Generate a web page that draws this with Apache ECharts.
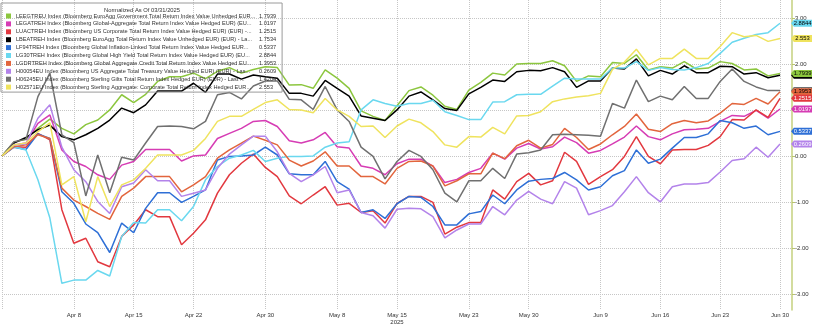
<!DOCTYPE html>
<html>
<head>
<meta charset="utf-8">
<script src="https://cdn.jsdelivr.net/npm/echarts@6/dist/echarts.min.js"></script>
<style>
  html, body { margin: 0; padding: 0; background: #ffffff; }
  #chart { width: 816px; height: 330px; }
</style>
</head>
<body>
<div id="chart"></div>
<script>
// Trading calendar: every weekday from 31 Mar to 30 Jun 2025
const firstDay = '2025-03-31';
const lastDay = '2025-06-30';
function weekdaysBetween(a, b) {
  const out = [];
  const d = new Date(a + 'T00:00:00Z');
  const end = new Date(b + 'T00:00:00Z');
  while (d <= end) {
    const wd = d.getUTCDay();
    if (wd !== 0 && wd !== 6) out.push(d.toISOString().slice(0, 10));
    d.setUTCDate(d.getUTCDate() + 1);
  }
  return out;
}
const dates = weekdaysBetween(firstDay, lastDay);

// Labelled ticks on the date axis
const tickLabels = {
  '2025-04-08': 'Apr 8', '2025-04-15': 'Apr 15', '2025-04-22': 'Apr 22',
  '2025-04-30': 'Apr 30', '2025-05-08': 'May 8', '2025-05-15': 'May 15\n2025',
  '2025-05-23': 'May 23', '2025-05-30': 'May 30', '2025-06-09': 'Jun 9',
  '2025-06-16': 'Jun 16', '2025-06-23': 'Jun 23', '2025-06-30': 'Jun 30'
};
const gridDates = ['2025-03-31'].concat(Object.keys(tickLabels));

// Index codes and their descriptions
const codes = ['LEEGTREU', 'LEGATREH', 'LUACTREH', 'LBEATREH', 'LF94TREH',
               'LG30TREH', 'LGDRTREH', 'H00054EU', 'H06245EU', 'H02571EU'];
const descriptions = [
  'LEEGTREU Index (Bloomberg EuroAgg Government Total Return Index Value Unhedged EUR...',
  'LEGATREH Index (Bloomberg Global-Aggregate Total Return Index Value Hedged EUR) (EU...',
  'LUACTREH Index (Bloomberg US Corporate Total Return Index Value Hedged EUR) (EUR) -...',
  'LBEATREH Index (Bloomberg EuroAgg Total Return Index Value Unhedged EUR) (EUR) - La...',
  'LF94TREH Index (Bloomberg Global Inflation-Linked Total Return Index Value Hedged EUR...',
  'LG30TREH Index (Bloomberg Global High Yield Total Return Index Value Hedged EUR) (EU...',
  'LGDRTREH Index (Bloomberg Global Aggregate Credit Total Return Index Value Hedged EU...',
  'H00054EU Index (Bloomberg US Aggregate Total Treasury Value Hedged EUR) (EUR) - Las...',
  'H06245EU Index (Bloomberg Sterling Gilts Total Return Index Hedged EUR) (EUR) - Last ...',
  'H02571EU Index (Bloomberg Sterling Aggregate: Corporate Total Return Index Hedged EUR...'
];
const colors = ['#8cc63e', '#d63cb4', '#e2383f', '#000000', '#2e6fd6',
                '#6ad8ef', '#e2653d', '#b383ea', '#707070', '#efe35e'];
const tagTextColors = ['#000', '#fff', '#fff', '#fff', '#fff',
                       '#000', '#000', '#fff', '#fff', '#000'];

// Normalized returns (%), one value per weekday
const LEEGTREU = [0, 0.30, 0.36, 0.60, 0.80, 0.60, 0.48, 0.68, 0.78, 1.00, 1.33, 1.16, 1.34, 1.62, 1.72, 1.72, 1.80, 1.68, 1.84, 1.92, 1.80, 1.88,
  1.94, 1.92, 1.54, 1.55, 1.47, 1.87, 1.69, 1.47, 0.98, 0.86, 0.77, 1.09, 1.42, 1.50, 1.32, 1.08, 1.01, 1.43, 1.60, 1.80, 1.76, 2.00,
  2.01, 2.01, 2.07, 1.96, 1.62, 1.74, 1.72, 2.03, 2.01, 2.20, 1.87, 1.94, 1.91, 2.05, 1.89, 1.91, 2.05, 2.01, 1.87, 1.89, 1.74, 1.7939];
const LEGATREH = [0, 0.24, 0.28, 0.71, 0.89, 0.13, -0.12, -0.23, -0.41, -0.51, -0.20, -0.12, 0.14, 0.14, 0.14, -0.11, 0.00, 0.02, 0.38, 0.49, 0.60, 0.75,
  0.77, 0.64, 0.33, 0.28, 0.35, 0.51, 0.20, 0.17, -0.22, -0.27, -0.41, -0.17, -0.07, -0.07, -0.22, -0.58, -0.51, -0.36, -0.27, 0.06, -0.07, 0.17,
  0.27, 0.15, 0.20, 0.41, 0.29, 0.06, 0.12, 0.26, 0.41, 0.65, 0.42, 0.35, 0.48, 0.57, 0.58, 0.60, 0.75, 0.88, 0.86, 0.99, 0.82, 1.0197];
const LUACTREH = [0, 0.20, 0.19, 0.49, 0.35, -1.17, -1.90, -1.79, -2.30, -2.41, -1.75, -1.50, -1.17, -1.32, -1.32, -1.93, -1.68, -1.39, -0.81, -0.41, -0.16, 0.04,
  -0.25, -0.45, -0.87, -1.04, -0.85, -0.67, -1.07, -1.03, -1.23, -1.19, -1.46, -1.03, -0.88, -0.88, -1.01, -1.70, -1.55, -1.45, -1.45, -0.74, -0.94, -0.56,
  -0.38, -0.63, -0.54, 0.08, -0.12, -0.62, -0.45, -0.30, -0.01, 0.42, -0.01, -0.17, 0.13, 0.14, 0.14, 0.23, 0.42, 0.79, 0.78, 1.00, 0.84, 1.2515];
const LBEATREH = [0, 0.28, 0.40, 0.57, 0.67, 0.42, 0.35, 0.46, 0.60, 0.78, 1.04, 0.94, 1.11, 1.41, 1.41, 1.41, 1.58, 1.38, 1.78, 1.78, 1.67, 1.76,
  1.72, 1.69, 1.36, 1.36, 1.30, 1.64, 1.47, 1.30, 0.87, 0.82, 0.77, 1.00, 1.30, 1.39, 1.22, 1.03, 0.99, 1.35, 1.49, 1.65, 1.62, 1.83,
  1.86, 1.85, 1.92, 1.83, 1.49, 1.63, 1.63, 1.91, 1.89, 2.11, 1.74, 1.86, 1.78, 1.96, 1.81, 1.81, 1.95, 1.94, 1.78, 1.81, 1.70, 1.7534];
const LF94TREH = [0, 0.19, 0.14, 0.48, 0.38, -0.78, -1.03, -1.48, -1.67, -2.10, -1.46, -1.67, -1.14, -0.80, -0.80, -1.01, -0.88, -0.74, -0.09, -0.01, 0.00, 0.02,
  0.19, 0.02, -0.39, -0.41, -0.41, -0.12, -0.56, -0.72, -1.23, -1.17, -1.36, -1.04, -0.88, -0.90, -1.10, -1.50, -1.50, -1.26, -1.21, -0.85, -1.04, -0.74,
  -0.55, -0.51, -0.49, -0.36, -0.52, -0.74, -0.67, -0.43, -0.32, 0.13, -0.16, -0.07, 0.17, 0.40, 0.40, 0.48, 0.77, 0.72, 0.60, 0.65, 0.46, 0.5337];
const LG30TREH = [0, 0.20, 0.13, -0.52, -1.35, -2.77, -2.70, -2.70, -2.49, -2.61, -1.75, -1.45, -1.46, -1.17, -1.17, -1.41, -1.10, -0.52, -0.23, -0.05, 0.02, 0.12,
  -0.12, -0.05, -0.01, -0.01, 0.00, 0.19, 0.28, 0.31, 1.00, 1.22, 1.14, 1.08, 1.14, 1.14, 1.21, 0.96, 0.88, 0.79, 0.79, 1.17, 1.18, 1.33,
  1.34, 1.34, 1.52, 1.69, 1.67, 1.67, 1.67, 1.91, 1.91, 2.05, 1.86, 1.92, 1.88, 1.87, 1.92, 2.01, 2.23, 2.47, 2.56, 2.64, 2.68, 2.8844];
const LGDRTREH = [0, 0.20, 0.24, 0.46, 0.38, -0.70, -0.96, -1.10, -1.25, -1.38, -0.88, -0.70, -0.45, -0.45, -0.45, -0.78, -0.63, -0.45, -0.05, 0.13, 0.28, 0.43,
  0.34, 0.24, -0.09, -0.22, -0.11, 0.09, -0.22, -0.22, -0.45, -0.45, -0.61, -0.27, -0.12, -0.11, -0.22, -0.65, -0.54, -0.39, -0.39, 0.06, -0.06, 0.22,
  0.34, 0.17, 0.25, 0.60, 0.40, 0.14, 0.26, 0.46, 0.64, 0.91, 0.58, 0.53, 0.70, 0.77, 0.72, 0.76, 0.93, 1.14, 1.12, 1.25, 1.13, 1.3953];
const H00054EU = [0, 0.24, 0.26, 0.82, 1.11, 0.19, -0.30, -0.56, -0.99, -1.25, -0.67, -0.59, -0.30, -0.54, -0.54, -0.88, -0.81, -0.74, -0.27, 0.04, 0.24, 0.43,
  0.43, 0.09, -0.38, -0.56, -0.41, -0.23, -0.80, -0.74, -1.23, -1.30, -1.57, -1.16, -1.14, -1.15, -1.32, -1.78, -1.61, -1.48, -1.48, -1.10, -1.28, -0.96,
  -0.77, -0.94, -1.04, -0.56, -0.70, -1.28, -1.19, -1.08, -0.78, -0.45, -0.80, -1.00, -0.67, -0.61, -0.61, -0.58, -0.35, -0.10, -0.06, 0.19, -0.03, 0.2609];
const H06245EU = [0, 0.31, 0.36, 1.29, 1.80, 0.46, 0.29, -0.87, 0.02, -0.80, -0.03, -0.09, 0.28, 0.64, 0.65, 0.64, 0.59, 0.75, 1.33, 1.38, 1.24, 1.52,
  1.63, 1.63, 1.23, 1.22, 1.01, 1.51, 1.00, 0.75, 0.19, -0.01, -0.50, -0.12, 0.12, -0.01, -0.30, -0.81, -1.00, -0.54, -0.54, -0.27, -0.49, 0.04,
  0.07, 0.13, 0.46, 0.47, 0.46, 0.45, 0.43, 1.14, 1.04, 1.65, 1.18, 1.30, 1.22, 1.51, 1.25, 1.25, 1.62, 1.89, 1.62, 1.50, 1.42, 1.4204];
const H02571EU = [0, 0.24, 0.28, 0.53, 0.72, -0.63, -0.45, -1.43, -0.45, -1.10, -0.63, -0.52, -0.27, 0.02, 0.02, 0.02, 0.12, 0.38, 0.75, 0.86, 0.86, 1.01,
  1.16, 1.22, 1.01, 1.00, 0.94, 1.25, 1.00, 0.86, 0.64, 0.65, 0.40, 0.65, 0.80, 0.72, 0.53, 0.24, 0.19, 0.42, 0.41, 0.62, 0.48, 0.87,
  0.88, 0.96, 1.18, 1.24, 1.28, 1.31, 1.36, 1.88, 2.04, 2.32, 1.98, 2.12, 2.12, 2.32, 2.12, 2.12, 2.38, 2.68, 2.59, 2.62, 2.49, 2.553];

const valuesByCode = { LEEGTREU, LEGATREH, LUACTREH, LBEATREH, LF94TREH,
                       LG30TREH, LGDRTREH, H00054EU, H06245EU, H02571EU };

// Y-axis tick labels
const yTickValues = [-3, -2, -1, 0, 1, 2, 3];

const FONT = '"Liberation Sans", Arial, sans-serif';
const lastDate = dates[dates.length - 1];
const lastValue = code => valuesByCode[code][valuesByCode[code].length - 1];

const chart = echarts.init(document.getElementById('chart'), null, { renderer: 'canvas' });

const series = codes.map((code, k) => ({
  name: code,
  type: 'line',
  data: valuesByCode[code],
  showSymbol: false,
  symbol: 'none',
  lineStyle: { color: colors[k], width: 1.5 },
  itemStyle: { color: colors[k] },
  z: 2,
  markPoint: {
    silent: true,
    z: 30 - k,
    symbol: 'path://M0,4 L3,0 L22,0 L22,8 L3,8 Z',
    symbolSize: [21, 7],
    symbolKeepAspect: false,
    symbolOffset: [21.5, 0],
    itemStyle: { color: colors[k] },
    label: {
      show: true,
      position: 'inside',
      offset: [1, 0],
      formatter: p => String(p.value),
      color: tagTextColors[k],
      fontSize: 5.8,
      fontFamily: FONT
    },
    data: [{ coord: [lastDate, lastValue(code)], value: lastValue(code) }]
  }
}));

const option = {
  animation: false,
  backgroundColor: '#ffffff',
  grid: { left: 2, right: 24, top: 0, bottom: 20, containLabel: false },
  graphic: [{
    type: 'text',
    x: 142, y: 10,
    style: {
      text: 'Normalized As Of 03/31/2025',
      textAlign: 'center', textVerticalAlign: 'middle',
      fontSize: 5.8, fontFamily: FONT, fill: '#333'
    },
    z: 100
  }],
  legend: {
    data: codes,
    orient: 'vertical',
    left: 1, top: 3,
    padding: [10, 6, 2, 5],
    itemWidth: 5, itemHeight: 5, itemGap: 1.9,
    icon: 'rect',
    borderColor: '#9a9a9a', borderWidth: 1,
    backgroundColor: 'rgba(255,255,255,0)',
    selectedMode: false,
    formatter: name => {
      const k = codes.indexOf(name);
      return '{n|' + descriptions[k] + '}{v|' + String(lastValue(name)) + '}';
    },
    textStyle: {
      fontSize: 5.6, fontFamily: FONT, color: '#333', lineHeight: 5,
      rich: {
        n: { width: 243, fontSize: 5.6, fontFamily: FONT, color: '#333', lineHeight: 5 },
        v: { fontSize: 5.6, fontFamily: FONT, color: '#333', lineHeight: 5 }
      }
    }
  },
  xAxis: {
    type: 'category',
    boundaryGap: false,
    data: dates.concat(['']),
    axisLine: { show: false },
    axisTick: { show: false },
    axisLabel: {
      interval: (idx, val) => Object.prototype.hasOwnProperty.call(tickLabels, val),
      formatter: val => tickLabels[val] || '',
      fontSize: 6, fontFamily: FONT, color: '#333',
      margin: 2, lineHeight: 7
    },
    splitLine: {
      show: true,
      interval: (idx, val) => gridDates.indexOf(val) >= 0,
      lineStyle: { color: '#c6c6c6', type: 'dotted', width: 1 }
    }
  },
  yAxis: {
    type: 'value',
    position: 'right',
    min: -3.35, max: 3.39,
    minInterval: 1, maxInterval: 1, splitNumber: 6,
    axisLine: { show: true, lineStyle: { color: '#c5d07e', width: 1.5 } },
    axisTick: { show: true, length: 3, lineStyle: { color: '#b9c46e' } },
    axisLabel: {
      showMinLabel: false, showMaxLabel: false,
      formatter: v => (yTickValues.indexOf(Math.round(v * 100) / 100) >= 0 ? v.toFixed(2) : ''),
      fontSize: 6, fontFamily: FONT, color: '#333', margin: 3
    },
    splitLine: {
      show: true, showMinLine: false, showMaxLine: false,
      lineStyle: { color: '#c6c6c6', type: 'dotted', width: 1 }
    }
  },
  series
};

chart.setOption(option);
</script>
</body>
</html>
